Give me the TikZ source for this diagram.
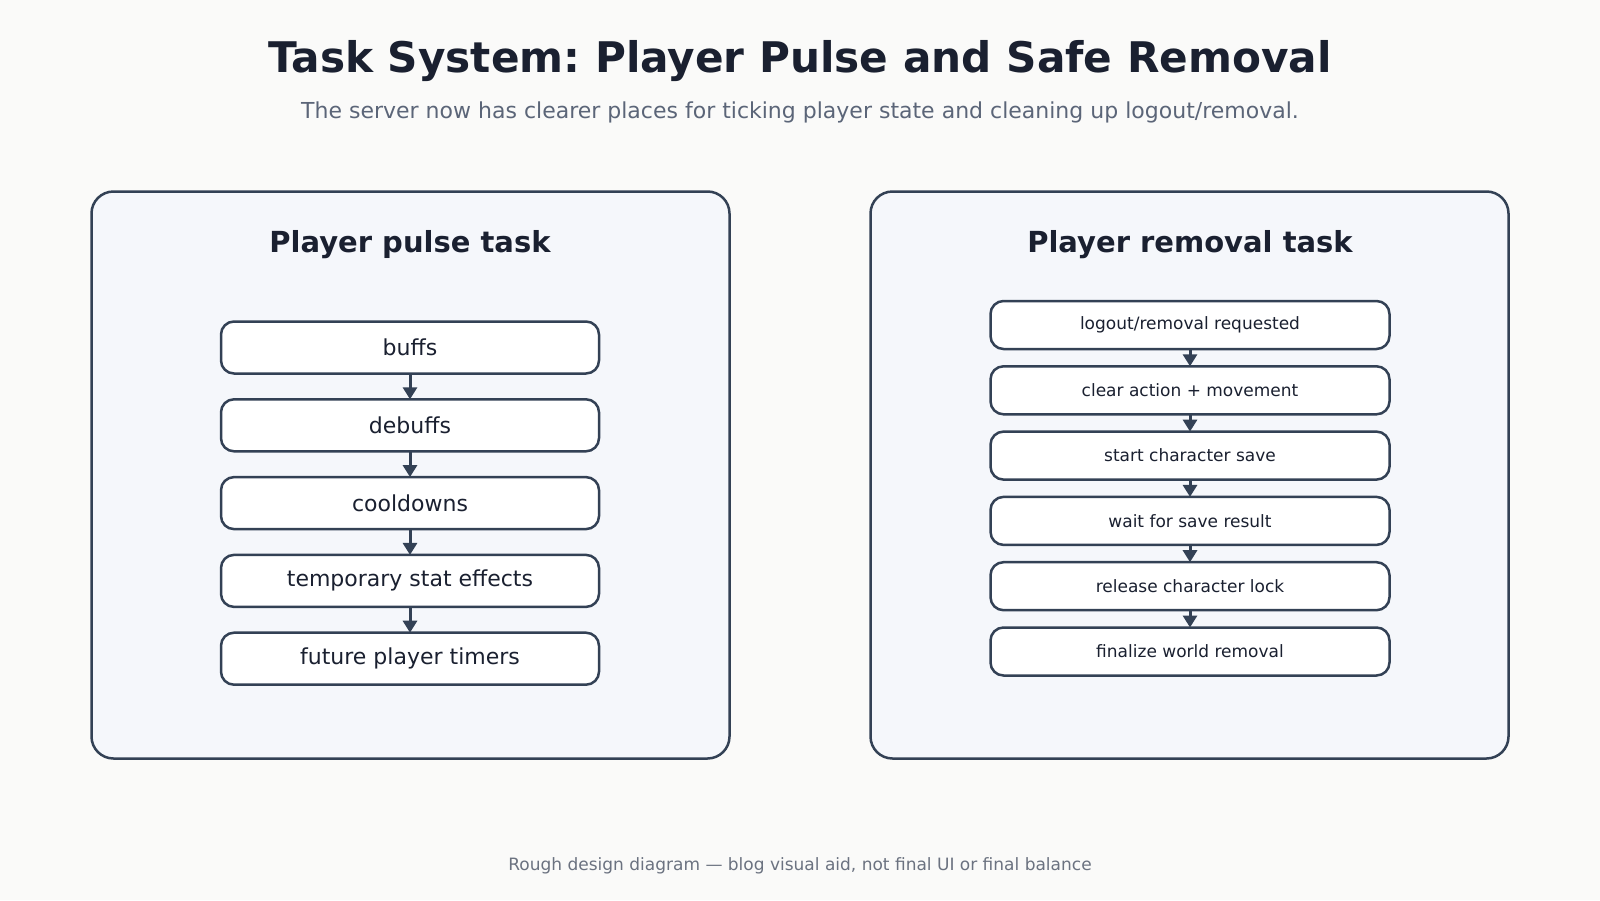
\documentclass[tikz,border=0pt]{standalone}
\usepackage{fontspec}
\setmainfont{DejaVu Sans}
\usetikzlibrary{positioning}
\usetikzlibrary{arrows.meta}
\definecolor{pagebg}{HTML}{FAFAF9}
\definecolor{panelbg}{HTML}{F5F7FB}
\definecolor{slateline}{HTML}{334155}
\definecolor{titleink}{HTML}{1A2030}
\definecolor{subink}{HTML}{5B6578}
\definecolor{footink}{HTML}{6B7280}
\frenchspacing

\begin{document}
\begin{tikzpicture}[x=1pt, y=-1pt,
                panelbox/.style={rectangle, rounded corners=22pt, draw=slateline, fill=panelbg, line width=2.5pt, minimum width=638pt, minimum height=567pt, inner sep=0pt},
                paneltitle/.style={text=titleink, font=\fontsize{29}{35}\selectfont\bfseries},
                pulsebox/.style={rectangle, rounded corners=13pt, draw=slateline, fill=white, line width=2.5pt, outer sep=0pt, minimum width=378pt, minimum height=52pt, text=titleink, font=\fontsize{22}{26}\selectfont},
                removebox/.style={rectangle, rounded corners=13pt, draw=slateline, fill=white, line width=2.5pt, outer sep=0pt, minimum width=399pt, minimum height=48pt, text=titleink, font=\fontsize{17}{20}\selectfont},
                flowarrow/.style={-{Triangle[length=12pt, width=14pt]}, draw=slateline, line width=3pt},
                ]
                \fill[pagebg] (0,0) rectangle (1600,900);
                \useasboundingbox (0,0) rectangle (1600,900);

                \node[text=titleink, font=\fontsize{42.2}{50}\selectfont\bfseries] (T) at (800,61) {Task System: Player Pulse and Safe Removal};
                \node[text=subink, font=\fontsize{22}{26}\selectfont] (S) at (800,112) {The server now has clearer places for ticking player state and cleaning up logout/removal.};

                % left panel
                \node[panelbox] (LP) at (410.5,475) {};
                \node[paneltitle] (LT) at (410,245) {Player pulse task};
                \node[pulsebox] (P1) at (410,347.5) {buffs};
                \node[pulsebox, below=25.8pt of P1] (P2) {debuffs};
                \node[pulsebox, below=25.8pt of P2] (P3) {cooldowns};
                \node[pulsebox, below=25.8pt of P3] (P4) {temporary stat effects};
                \node[pulsebox, below=25.8pt of P4] (P5) {future player timers};

                % right panel
                \node[panelbox] (RP) at (1189.5,475) {};
                \node[paneltitle] (RT) at (1190,245) {Player removal task};
                \node[removebox] (R1) at (1190,325) {logout/removal requested};
                \node[removebox, below=17.3pt of R1] (R2) {clear action + movement};
                \node[removebox, below=17.3pt of R2] (R3) {start character save};
                \node[removebox, below=17.3pt of R3] (R4) {wait for save result};
                \node[removebox, below=17.3pt of R4] (R5) {release character lock};
                \node[removebox, below=17.3pt of R5] (R6) {finalize world removal};

                \draw[flowarrow] (P1.south) -- (P2.north);
                \draw[flowarrow] (P2.south) -- (P3.north);
                \draw[flowarrow] (P3.south) -- (P4.north);
                \draw[flowarrow] (P4.south) -- (P5.north);

                \draw[flowarrow] (R1.south) -- (R2.north);
                \draw[flowarrow] (R2.south) -- (R3.north);
                \draw[flowarrow] (R3.south) -- (R4.north);
                \draw[flowarrow] (R4.south) -- (R5.north);
                \draw[flowarrow] (R5.south) -- (R6.north);

                \node[text=footink, font=\fontsize{17}{20}\selectfont] (F) at (800,866) {Rough design diagram — blog visual aid, not final UI or final balance};
            \end{tikzpicture}
\end{document}
